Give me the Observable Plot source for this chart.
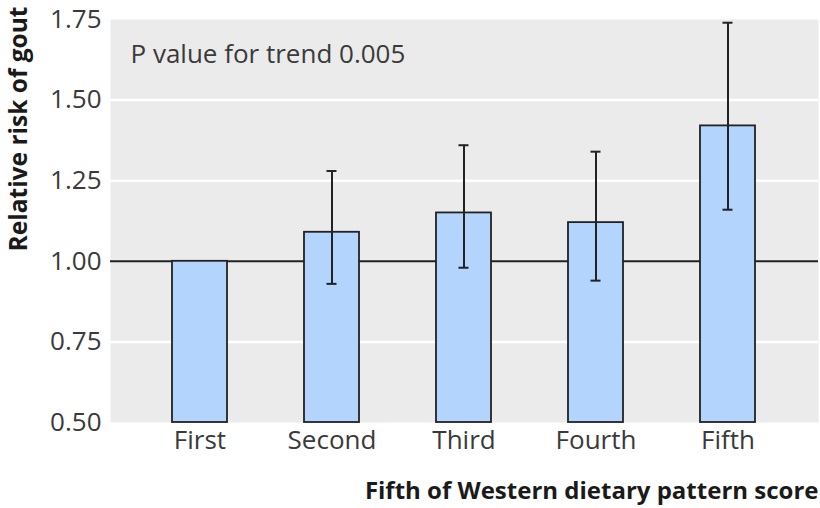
<!DOCTYPE html>
<html>
<head>
<meta charset="utf-8">
<script src="https://cdn.jsdelivr.net/npm/d3@7"></script>
<script src="https://cdn.jsdelivr.net/npm/@observablehq/plot@0.6"></script>
<style>
  html, body { margin: 0; padding: 0; background: #fff; }
</style>
</head>
<body>
<div id="chart"></div>
<script>
const categories = ["First", "Second", "Third", "Fourth", "Fifth"];
const relativeRisk = [1.00, 1.09, 1.15, 1.12, 1.42];
const lowerCI = [null, 0.93, 0.98, 0.94, 1.16];
const upperCI = [null, 1.28, 1.36, 1.34, 1.74];
const yTicks = [0.50, 0.75, 1.00, 1.25, 1.50, 1.75];
const gridValues = [0.75, 1.25, 1.50];
const referenceValue = [1.00];
const annotation = ["P value for trend 0.005"];
const xTitle = ["Fifth of Western dietary pattern score"];
const yTitle = ["Relative risk of gout"];

const yBase = yTicks[0];
const rows = categories.map((c, i) => ({cat: c, rr: relativeRisk[i], base: yBase, lo: lowerCI[i], hi: upperCI[i]}));
const ci = rows.filter(d => d.lo != null);

const FONT = "'Open Sans', 'Noto Sans', sans-serif";
const ink = "#222222";

const chart = Plot.plot({
  width: 820,
  height: 508,
  marginLeft: 110,
  marginRight: 2,
  marginTop: 19,
  marginBottom: 86,
  style: {fontFamily: FONT, fontSize: "26px", color: "#3a3a3a", background: "#fff", overflow: "visible"},
  x: {domain: categories, paddingInner: 0.58, paddingOuter: 0.455, label: null, tickSize: 0, tickPadding: 8},
  y: {domain: [yTicks[0], yTicks[yTicks.length - 1]], ticks: yTicks, tickFormat: d3.format(".2f"), label: null, tickSize: 0, tickPadding: 9},
  marks: [
    Plot.frame({fill: "#ebebeb", stroke: null}),
    Plot.ruleY(gridValues, {stroke: "#fff", strokeWidth: 2.5}),
    Plot.ruleY(referenceValue, {stroke: ink, strokeWidth: 2}),
    Plot.barY(rows, {x: "cat", y1: "base", y2: "rr", fill: "#b3d4fc", stroke: ink, strokeWidth: 1.8}),
    Plot.ruleX(ci, {x: "cat", y1: "lo", y2: "hi", stroke: ink, strokeWidth: 2}),
    Plot.tickY(ci, {x: "cat", y: "lo", stroke: ink, strokeWidth: 2, insetLeft: 22.5, insetRight: 22.5}),
    Plot.tickY(ci, {x: "cat", y: "hi", stroke: ink, strokeWidth: 2, insetLeft: 22.5, insetRight: 22.5}),
    Plot.text(annotation, {frameAnchor: "top-left", dx: 20, dy: 43, textAnchor: "start", lineAnchor: "bottom", fill: "#3a3a3a"}),
    Plot.text(xTitle, {frameAnchor: "bottom-right", dy: 76, textAnchor: "end", lineAnchor: "bottom", fontWeight: "bold", fontSize: 24, fill: "#1a1a1a"}),
    Plot.text(yTitle, {frameAnchor: "top-left", dx: -84, dy: -13, rotate: -90, textAnchor: "end", lineAnchor: "bottom", fontWeight: "bold", fontSize: 24.5, fill: "#1a1a1a"})
  ]
});
document.getElementById("chart").appendChild(chart);
</script>
</body>
</html>
